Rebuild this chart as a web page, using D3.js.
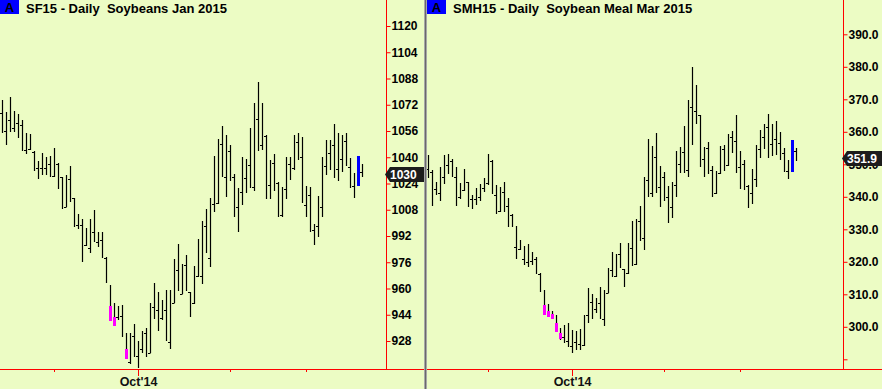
<!DOCTYPE html>
<html>
<head>
<meta charset="utf-8">
<script src="https://cdn.jsdelivr.net/npm/d3@7"></script>
<style>
  html, body { margin: 0; padding: 0; background: #ecfcc4; }
  svg { display: block; }
  text { font-family: "Liberation Sans", Arial, sans-serif; font-weight: bold; }
</style>
</head>
<body>
<script>
// ---- SF15 soybeans (daily high / low / close) ----
var sfHigh = [1074.9,1067.6,1076.7,1068.2,1066.4,1062.7,1054.8,1054.2,1043.8,1037.7,
  1042.6,1040.2,1040.8,1045.6,1036.5,1028.0,1029.2,1034.7,1015.2,1005.4,
  1002.4,996.9,1002.4,1007.9,994.4,994.4,979.2,962.1,951.2,949.3,
  950.0,932.9,932.9,938.3,928.0,934.1,936.0,951.2,963.4,957.9,
  953.0,959.1,959.1,978.0,987.1,975.0,980.4,957.9,973.7,990.2,
  1001.2,1008.5,1015.2,1040.8,1051.1,1059.0,1053.6,1047.5,1029.8,1021.3,
  1040.2,1039.0,1057.8,1073.1,1085.8,1073.1,1053.6,1038.3,1042.0,1024.9,
  1021.9,1040.2,1040.2,1053.6,1054.8,1052.4,1022.5,1021.9,999.3,1016.4,
  1040.2,1050.5,1050.5,1060.3,1054.8,1053.6,1054.8,1039.6,1030.4,1040.8,1035.9];
var sfLow = [1054.8,1047.5,1055.4,1055.4,1051.7,1043.8,1042.0,1044.4,1031.6,1026.7,
  1029.2,1029.2,1028.0,1028.0,1020.7,1008.5,1009.7,1012.7,997.5,996.3,
  976.2,985.9,981.6,988.3,985.3,978.6,963.4,940.2,937.2,940.8,
  930.4,917.0,914.0,918.3,911.5,920.7,918.3,920.7,941.4,934.1,
  940.8,928.0,923.1,951.2,958.5,956.7,958.5,942.6,950.6,967.0,
  962.8,981.6,973.1,1006.6,1011.5,1028.0,1015.8,1025.5,1003.6,994.4,
  1010.9,1018.2,1021.3,1019.4,1043.8,1044.4,1014.6,1014.6,1019.4,1003.6,
  1003.6,1014.6,1026.1,1032.2,1038.3,1012.1,1003.6,994.4,986.5,991.4,
  1003.6,1029.2,1032.2,1027.4,1025.5,1031.0,1034.7,1021.3,1015.2,1022.5,1028.0];
var sfClose = [1067.0,1056.0,1062.7,1057.8,1060.9,1059.7,1044.4,1045.0,1043.2,1033.5,
  1033.5,1033.5,1035.9,1028.6,1035.9,1028.0,1009.7,1026.7,1015.2,998.7,
  998.7,986.5,984.7,994.4,988.3,989.6,978.6,940.2,937.2,942.6,
  943.2,917.0,915.2,931.1,918.9,923.1,932.9,920.7,948.7,946.9,
  942.0,946.9,927.4,951.2,971.3,956.7,974.3,957.9,951.2,967.6,
  967.6,998.1,978.6,1011.5,1012.1,1048.1,1028.0,1043.8,1028.0,1009.7,
  1018.8,1027.4,1035.3,1021.9,1063.3,1047.5,1053.0,1023.1,1036.5,1024.3,
  1004.8,1020.7,1035.9,1033.5,1049.3,1040.2,1010.9,1017.0,995.6,998.1,
  1009.7,1034.7,1042.6,1047.5,1032.8,1039.0,1049.9,1034.1,1022.5,1022.5,1031.0];
// highlighted bars: [bar index, top, bottom, kind]
var sfBodies = [[27,949.3,940.2,"sell"],[28,942.6,937.2,"sell"],[31,923.1,917.0,"sell"],[89,1040.8,1022.5,"today"]];
var sfAxis = [928,944,960,976,992,1008,1024,1040,1056,1072,1088,1104,1120];
var sfMonths = [[13,""],[34,"Oct'14"],[57,""],[76,""]];
var sfLast = 1030;

// ---- SMH15 soybean meal ----
var smHigh = [352.9,348.3,344.6,349.2,352.9,353.2,351.6,349.2,344.3,348.6,
  344.6,340.6,342.7,343.9,345.8,353.2,351.3,343.6,343.0,344.6,
  339.6,334.7,331.0,326.7,324.9,325.5,323.0,321.5,316.6,311.3,
  307.1,304.9,303.6,299.6,300.6,301.2,299.0,298.7,299.3,303.6,
  311.9,310.1,308.9,312.3,311.3,318.1,323.0,322.4,325.8,317.8,
  325.8,332.6,333.2,337.2,346.1,357.8,355.6,359.6,349.5,347.6,
  343.3,344.6,354.1,355.3,361.8,369.8,379.9,374.4,365.2,355.3,
  356.9,349.5,347.9,355.6,355.9,359.3,360.3,365.2,354.1,351.3,
  343.6,348.6,355.9,360.6,362.4,365.5,362.4,363.3,359.9,355.0,
  351.3,357.5,355.0];
var smLow = [345.8,337.2,340.6,338.7,343.9,347.0,346.1,337.2,339.3,341.8,
  336.9,336.3,337.5,338.7,341.5,343.6,340.9,334.7,335.3,335.3,
  330.7,330.7,320.9,323.6,319.0,318.4,319.0,316.3,310.7,303.6,
  303.0,302.4,298.4,295.9,295.0,293.8,291.9,292.9,292.9,294.1,
  301.2,302.4,304.3,302.4,300.3,310.4,315.3,315.3,318.1,312.3,
  316.3,318.7,319.0,326.4,323.6,339.9,339.9,341.2,336.9,338.7,
  331.9,333.5,339.9,347.3,347.3,346.1,355.9,362.4,349.2,346.1,
  347.0,339.9,340.9,347.0,347.9,349.5,353.5,347.3,342.4,342.1,
  336.6,337.8,343.0,351.9,354.7,351.9,352.6,352.9,351.3,347.6,
  345.5,347.6,351.0];
var smClose = [348.6,347.6,342.4,341.2,346.1,349.8,351.0,346.0,339.9,342.1,
  344.6,339.3,339.3,339.9,342.7,344.3,351.0,340.6,335.6,341.5,
  337.2,334.4,324.6,323.9,320.9,319.9,320.3,320.9,316.3,303.6,
  303.0,302.4,298.4,296.3,296.9,295.6,294.1,295.3,294.7,294.4,
  303.6,307.6,305.5,307.3,302.4,310.4,317.5,315.6,322.4,317.8,
  316.6,324.3,319.3,332.6,327.3,345.2,341.2,352.3,343.0,346.1,
  339.9,336.9,343.6,350.1,353.8,348.3,367.6,366.4,365.2,351.6,
  355.0,348.3,341.2,347.3,354.7,349.8,358.4,357.2,349.2,350.1,
  343.3,341.2,345.5,354.7,358.4,361.5,356.3,357.8,356.6,353.5,
  347.9,347.6,354.1];
var smBodies = [[29,306.7,303.6,"sell"],[30,304.9,303.0,"sell"],[31,303.9,302.4,"sell"],
  [32,301.2,298.4,"sell"],[33,298.1,296.3,"sell"],[91,357.5,347.6,"today"]];
var smAxis = [290,300,310,320,330,340,350,360,370,380,390];
var smMonths = [[15,""],[36,"Oct'14"],[59,""],[78,""]];
var smLast = 351.9;

var width = 882, height = 389, baseY = 369;
var bodyColor = {sell: "#ff00ff", today: "#0000ff"};

var svg = d3.select("body").append("svg")
  .attr("width", width)
  .attr("height", height);

svg.append("rect").attr("width", width).attr("height", height).attr("fill", "#ecfcc4");

function drawPanel(p) {
  var g = svg.append("g");
  var n = p.high.length;
  var x = d3.scaleLinear().domain([0, n - 1]).range([p.x0, p.x0 + 4 * (n - 1)]);
  var y = d3.scaleLinear().domain(p.yDom).range(p.yRng);
  var px = function(i) { return Math.round(x(i)) + 0.5; };

  var bars = d3.range(n).map(function(i) {
    return {i: i, h: p.high[i], l: p.low[i], c: p.close[i]};
  });
  var hasBody = {};
  p.bodies.forEach(function(b) { hasBody[b[0]] = true; });

  // red frame lines
  g.append("line")
    .attr("x1", p.axisX + 0.5).attr("x2", p.axisX + 0.5)
    .attr("y1", 0).attr("y2", baseY)
    .attr("stroke", "#ff0000");
  g.append("line")
    .attr("x1", p.left).attr("x2", p.right)
    .attr("y1", baseY + 0.5).attr("y2", baseY + 0.5)
    .attr("stroke", "#ff0000");

  // bars
  g.selectAll("line.bar").data(bars).enter().append("line")
    .attr("class", "bar")
    .attr("x1", function(d) { return px(d.i); })
    .attr("x2", function(d) { return px(d.i); })
    .attr("y1", function(d) { return Math.round(y(d.h)); })
    .attr("y2", function(d) { return Math.round(y(d.l)); })
    .attr("stroke", "#000")
    .attr("stroke-width", 1.2);

  g.selectAll("line.cl").data(bars.filter(function(d) { return !hasBody[d.i]; })).enter().append("line")
    .attr("class", "cl")
    .attr("x1", function(d) { return px(d.i) - 2.5; })
    .attr("x2", function(d) { return px(d.i); })
    .attr("y1", function(d) { return Math.round(y(d.c)) + 0.5; })
    .attr("y2", function(d) { return Math.round(y(d.c)) + 0.5; })
    .attr("stroke", "#000");

  g.selectAll("rect.body").data(p.bodies).enter().append("rect")
    .attr("class", "body")
    .attr("x", function(d) { return Math.round(x(d[0])) - 1; })
    .attr("width", 3)
    .attr("y", function(d) { return Math.round(y(d[1])); })
    .attr("height", function(d) { return Math.round(y(d[2])) - Math.round(y(d[1])); })
    .attr("fill", function(d) { return bodyColor[d[3]]; });

  // price axis
  var axis = d3.axisRight(y)
    .tickValues(p.axisVals)
    .tickSize(4)
    .tickPadding(1)
    .tickFormat(function(v) { return p.labelled(v) ? p.fmt(v) : ""; });
  var ag = g.append("g")
    .attr("transform", "translate(" + (p.axisX + 0.5) + ",0)")
    .call(axis);
  ag.select(".domain").remove();
  ag.selectAll(".tick line").attr("stroke", "#ff0000");
  ag.selectAll(".tick text")
    .attr("fill", "#000")
    .attr("font-family", null)
    .style("font-size", "12px");

  // month ticks
  g.selectAll("line.mon").data(p.months).enter().append("line")
    .attr("x1", function(d) { return px(d[0]); })
    .attr("x2", function(d) { return px(d[0]); })
    .attr("y1", baseY)
    .attr("y2", function(d) { return d[1] ? baseY + 7 : baseY + 3; })
    .attr("stroke", "#ff0000");
  g.selectAll("text.mon").data(p.months.filter(function(d) { return d[1]; })).enter().append("text")
    .attr("x", function(d) { return px(d[0]); })
    .attr("y", 386)
    .attr("text-anchor", "middle")
    .style("font-size", "12.5px")
    .attr("fill", "#111")
    .text(function(d) { return d[1]; });

  // last price flag
  var yv = Math.round(y(p.last)) + 0.5;
  var ax = p.axisX;
  g.append("path")
    .attr("d", "M" + (ax - 1) + "," + yv + "L" + (ax + 4) + "," + (yv - 7.5) + "L" + p.boxR + "," + (yv - 7.5) +
      "L" + p.boxR + "," + (yv + 7.5) + "L" + (ax + 4) + "," + (yv + 7.5) + "Z")
    .attr("fill", "#1c1c1c");
  g.append("text")
    .attr("x", ax + 4)
    .attr("y", yv + 4.5)
    .attr("fill", "#fff")
    .style("font-size", "12px")
    .text(p.fmt(p.last));

  // title
  g.append("rect").attr("x", p.left).attr("y", 0).attr("width", 19).attr("height", 14).attr("fill", "#0000ff");
  g.append("text").attr("x", p.left + 9.5).attr("y", 12).attr("text-anchor", "middle")
    .style("font-size", "13px").attr("fill", "#000").text("A");
  g.append("text").attr("x", p.left + 26).attr("y", 13)
    .style("font-size", "13px").style("white-space", "pre").attr("fill", "#000")
    .text(p.title);
}

drawPanel({
  title: "SF15 - Daily  Soybeans Jan 2015",
  high: sfHigh, low: sfLow, close: sfClose, bodies: sfBodies,
  axisVals: sfAxis, months: sfMonths, last: sfLast,
  labelled: function() { return true; },
  fmt: d3.format("d"),
  x0: 2, left: 0, right: 424, axisX: 386, boxR: 424,
  yDom: [928, 1120], yRng: [341, 26]
});

drawPanel({
  title: "SMH15 - Daily  Soybean Meal Mar 2015",
  high: smHigh, low: smLow, close: smClose, bodies: smBodies,
  axisVals: smAxis, months: smMonths, last: smLast,
  labelled: function(v) { return v >= 300; },
  fmt: d3.format(".1f"),
  x0: 428, left: 427, right: 882, axisX: 843, boxR: 882,
  yDom: [300, 390], yRng: [326.8, 34.3]
});

// panel divider
svg.append("rect").attr("x", 424).attr("y", 0).attr("width", 3).attr("height", height).attr("fill", "#a8a8a8");
svg.append("rect").attr("x", 425).attr("y", 0).attr("width", 1).attr("height", height).attr("fill", "#6a6a6a");
</script>
</body>
</html>
